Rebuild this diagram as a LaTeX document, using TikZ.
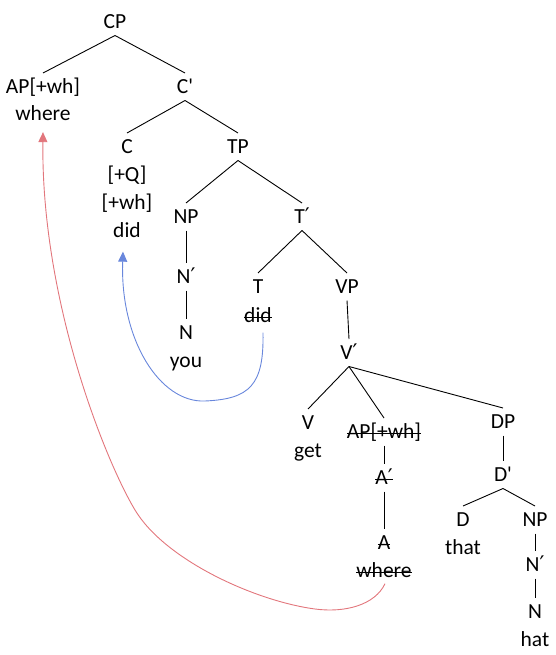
\documentclass[tikz,border=0pt]{standalone}
\usepackage{fontspec}
\setmainfont{Carlito}[Ligatures=TeXOff]
\newfontfamily\primefont{DejaVu Sans}
\usetikzlibrary{arrows.meta}
\newsavebox{\mystrikebox}
\newcommand{\mystrike}[1]{\sbox{\mystrikebox}{#1}\rlap{\rule[4.8pt]{\wd\mystrikebox}{0.9pt}}\usebox{\mystrikebox}}
\newcommand{\pr}{{\primefont ′}}
\definecolor{movblue}{RGB}{105,135,220}
\definecolor{movred}{RGB}{226,118,124}
\begin{document}
\begin{tikzpicture}[x=1pt,y=-1pt,
  every node/.style={font=\fontsize{21.5}{25}\selectfont},
  cat/.style={anchor=base,inner sep=0pt,outer xsep=0pt,outer ysep=7pt,text height=13.5pt,text depth=0pt},
  word/.style={anchor=base,inner sep=0pt,outer sep=0pt},
  branch/.style={line width=0.9pt,black},
  movearrow/.style={line width=0.9pt,-{Triangle[length=10pt,width=9pt]}}
]
\useasboundingbox (0,0) rectangle (555,655);
% categories
\node[cat] (CP) at (115,28.5) {CP};
\node[cat] (APt) at (43,93.5) {AP[+wh]};
\node[word] (whereT) at (43,121) {where};
\node[cat] (Cbar) at (185,93.5) {C'};
\node[cat] (C) at (127,153.5) {C};
\node[word] (Q) at (127,181.5) {[+Q]};
\node[word] (wh) at (127,209.5) {[+wh]};
\node[word] (didC) at (127,237.5) {did};
\node[cat] (TP) at (238,153.5) {TP};
\node[cat] (NP) at (186,223.5) {NP};
\node[cat] (Nbar) at (186,283.5) {N\pr};
\node[cat] (N) at (186,339.5) {N};
\node[word] (you) at (186,367) {you};
\node[cat] (Tbar) at (302,223.5) {T\pr};
\node[cat] (T) at (258,293.5) {T};
\node[word] (didT) at (258,322.5) {\mystrike{did}};
\node[cat] (VP) at (347,293.5) {VP};
\node[cat] (Vbar) at (349,359.5) {V\pr};
\node[cat] (V) at (308,429.5) {V};
\node[word] (get) at (308,457.5) {get};
\node[cat] (APs) at (384,438.5) {\mystrike{AP[+wh]}};
\node[cat] (Abar) at (384,484.5) {\mystrike{A\pr}};
\node[cat] (A) at (384,549.5) {\mystrike{A}};
\node[word] (whereS) at (384,577.5) {\mystrike{where}};
\node[cat] (DP) at (503,428.5) {DP};
\node[cat] (Dbar) at (503,481.5) {D'};
\node[cat] (D) at (463,526.5) {D};
\node[word] (that) at (463,554.5) {that};
\node[cat] (NP2) at (535,526.5) {NP};
\node[cat] (Nbar2) at (535,571.5) {N\pr};
\node[cat] (N2) at (535,618.5) {N};
\node[word] (hat) at (535,646.5) {hat};
% branches
\draw[branch] (CP.south) -- (APt.north);
\draw[branch] (CP.south) -- (Cbar.north);
\draw[branch] (Cbar.south) -- (C.north);
\draw[branch] (Cbar.south) -- (TP.north);
\draw[branch] (TP.south) -- (NP.north);
\draw[branch] (TP.south) -- (Tbar.north);
\draw[branch] (NP.south) -- (Nbar.north);
\draw[branch] (Nbar.south) -- (N.north);
\draw[branch] (Tbar.south) -- (T.north);
\draw[branch] (Tbar.south) -- (VP.north);
\draw[branch] (VP.south) -- (Vbar.north);
\draw[branch] (Vbar.south) -- (V.north);
\draw[branch] (Vbar.south) -- (APs.north);
\draw[branch] (Vbar.south) -- (DP.north);
\draw[branch] (APs.south) -- (Abar.north);
\draw[branch] (Abar.south) -- (A.north);
\draw[branch] (DP.south) -- (Dbar.north);
\draw[branch] (Dbar.south) -- (D.north);
\draw[branch] (Dbar.south) -- (NP2.north);
\draw[branch] (NP2.south) -- (Nbar2.north);
\draw[branch] (Nbar2.south) -- (N2.north);
% movement arrows
\draw[movearrow,movblue] ([xshift=5pt,yshift=-10pt]didT.south)
  .. controls (264,385) and (250,399) .. (205,401)
  .. controls (160,403) and (120,340) .. ([xshift=-4pt,yshift=-14pt]didC.south);
\draw[movearrow,movred] ([xshift=1pt,yshift=-6pt]whereS.south)
  .. controls (375,605) and (345,613) .. (315,609)
  .. controls (255,601) and (165,560) .. (135,510)
  .. controls (105,460) and (41,300) .. ([yshift=-11pt]whereT.south);
\end{tikzpicture}
\end{document}
